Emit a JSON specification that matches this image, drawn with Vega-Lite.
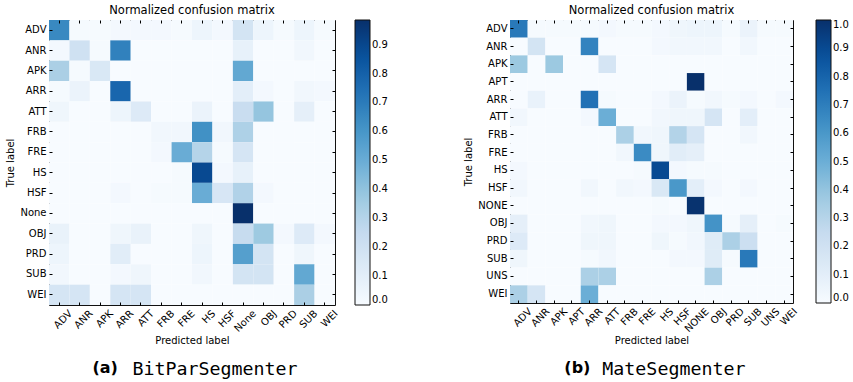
{
"$schema": "https://vega.github.io/schema/vega-lite/v6.json",
"background": "white",
"padding": {"left": 5, "top": 4, "right": 0, "bottom": 0},
"config": {
  "view": {"stroke": "#111", "strokeWidth": 1},
  "font": "DejaVu Sans",
  "axis": {"labelFont": "DejaVu Sans", "labelFontSize": 10, "labelColor": "#000", "titleFont": "DejaVu Sans", "titleFontSize": 10, "titleFontWeight": "normal", "titleColor": "#000", "domain": false, "grid": false, "tickColor": "#000", "tickSize": -3, "labelPadding": 6},
  "legend": {"labelFont": "DejaVu Sans", "labelFontSize": 10, "labelColor": "#000"},
  "title": {"font": "DejaVu Sans", "fontWeight": "normal", "color": "#000"}
},
"datasets": {
"a": [
{"t":"ADV","p":"ADV","v":0.65},{"t":"ADV","p":"ANR","v":0.01},{"t":"ADV","p":"APK","v":0.01},{"t":"ADV","p":"ARR","v":0.02},{"t":"ADV","p":"ATT","v":0.02},{"t":"ADV","p":"FRB","v":0.02},{"t":"ADV","p":"FRE","v":0.01},{"t":"ADV","p":"HS","v":0.05},{"t":"ADV","p":"HSF","v":0.02},{"t":"ADV","p":"None","v":0.18},{"t":"ADV","p":"OBJ","v":0.05},{"t":"ADV","p":"PRD","v":0.01},{"t":"ADV","p":"SUB","v":0.05},{"t":"ADV","p":"WEI","v":0.01},
{"t":"ANR","p":"ADV","v":0.02},{"t":"ANR","p":"ANR","v":0.2},{"t":"ANR","p":"APK","v":0.01},{"t":"ANR","p":"ARR","v":0.68},{"t":"ANR","p":"ATT","v":0},{"t":"ANR","p":"FRB","v":0},{"t":"ANR","p":"FRE","v":0},{"t":"ANR","p":"HS","v":0},{"t":"ANR","p":"HSF","v":0},{"t":"ANR","p":"None","v":0.08},{"t":"ANR","p":"OBJ","v":0},{"t":"ANR","p":"PRD","v":0},{"t":"ANR","p":"SUB","v":0.03},{"t":"ANR","p":"WEI","v":0},
{"t":"APK","p":"ADV","v":0.33},{"t":"APK","p":"ANR","v":0.01},{"t":"APK","p":"APK","v":0.15},{"t":"APK","p":"ARR","v":0},{"t":"APK","p":"ATT","v":0},{"t":"APK","p":"FRB","v":0},{"t":"APK","p":"FRE","v":0},{"t":"APK","p":"HS","v":0},{"t":"APK","p":"HSF","v":0},{"t":"APK","p":"None","v":0.52},{"t":"APK","p":"OBJ","v":0},{"t":"APK","p":"PRD","v":0},{"t":"APK","p":"SUB","v":0},{"t":"APK","p":"WEI","v":0},
{"t":"ARR","p":"ADV","v":0.01},{"t":"ARR","p":"ANR","v":0.06},{"t":"ARR","p":"APK","v":0},{"t":"ARR","p":"ARR","v":0.78},{"t":"ARR","p":"ATT","v":0},{"t":"ARR","p":"FRB","v":0},{"t":"ARR","p":"FRE","v":0},{"t":"ARR","p":"HS","v":0},{"t":"ARR","p":"HSF","v":0},{"t":"ARR","p":"None","v":0.1},{"t":"ARR","p":"OBJ","v":0.02},{"t":"ARR","p":"PRD","v":0},{"t":"ARR","p":"SUB","v":0.03},{"t":"ARR","p":"WEI","v":0.02},
{"t":"ATT","p":"ADV","v":0.04},{"t":"ATT","p":"ANR","v":0},{"t":"ATT","p":"APK","v":0},{"t":"ATT","p":"ARR","v":0.05},{"t":"ATT","p":"ATT","v":0.13},{"t":"ATT","p":"FRB","v":0},{"t":"ATT","p":"FRE","v":0},{"t":"ATT","p":"HS","v":0.06},{"t":"ATT","p":"HSF","v":0},{"t":"ATT","p":"None","v":0.23},{"t":"ATT","p":"OBJ","v":0.39},{"t":"ATT","p":"PRD","v":0},{"t":"ATT","p":"SUB","v":0.09},{"t":"ATT","p":"WEI","v":0},
{"t":"FRB","p":"ADV","v":0},{"t":"FRB","p":"ANR","v":0},{"t":"FRB","p":"APK","v":0},{"t":"FRB","p":"ARR","v":0},{"t":"FRB","p":"ATT","v":0},{"t":"FRB","p":"FRB","v":0.03},{"t":"FRB","p":"FRE","v":0.03},{"t":"FRB","p":"HS","v":0.62},{"t":"FRB","p":"HSF","v":0.03},{"t":"FRB","p":"None","v":0.32},{"t":"FRB","p":"OBJ","v":0},{"t":"FRB","p":"PRD","v":0},{"t":"FRB","p":"SUB","v":0},{"t":"FRB","p":"WEI","v":0},
{"t":"FRE","p":"ADV","v":0},{"t":"FRE","p":"ANR","v":0},{"t":"FRE","p":"APK","v":0},{"t":"FRE","p":"ARR","v":0},{"t":"FRE","p":"ATT","v":0},{"t":"FRE","p":"FRB","v":0.02},{"t":"FRE","p":"FRE","v":0.5},{"t":"FRE","p":"HS","v":0.3},{"t":"FRE","p":"HSF","v":0.01},{"t":"FRE","p":"None","v":0.17},{"t":"FRE","p":"OBJ","v":0},{"t":"FRE","p":"PRD","v":0},{"t":"FRE","p":"SUB","v":0},{"t":"FRE","p":"WEI","v":0},
{"t":"HS","p":"ADV","v":0},{"t":"HS","p":"ANR","v":0},{"t":"HS","p":"APK","v":0},{"t":"HS","p":"ARR","v":0},{"t":"HS","p":"ATT","v":0},{"t":"HS","p":"FRB","v":0},{"t":"HS","p":"FRE","v":0.01},{"t":"HS","p":"HS","v":0.89},{"t":"HS","p":"HSF","v":0.02},{"t":"HS","p":"None","v":0.08},{"t":"HS","p":"OBJ","v":0},{"t":"HS","p":"PRD","v":0},{"t":"HS","p":"SUB","v":0},{"t":"HS","p":"WEI","v":0},
{"t":"HSF","p":"ADV","v":0},{"t":"HSF","p":"ANR","v":0},{"t":"HSF","p":"APK","v":0},{"t":"HSF","p":"ARR","v":0.02},{"t":"HSF","p":"ATT","v":0},{"t":"HSF","p":"FRB","v":0.01},{"t":"HSF","p":"FRE","v":0.01},{"t":"HSF","p":"HS","v":0.5},{"t":"HSF","p":"HSF","v":0.16},{"t":"HSF","p":"None","v":0.31},{"t":"HSF","p":"OBJ","v":0.02},{"t":"HSF","p":"PRD","v":0},{"t":"HSF","p":"SUB","v":0},{"t":"HSF","p":"WEI","v":0},
{"t":"None","p":"ADV","v":0},{"t":"None","p":"ANR","v":0},{"t":"None","p":"APK","v":0},{"t":"None","p":"ARR","v":0},{"t":"None","p":"ATT","v":0},{"t":"None","p":"FRB","v":0},{"t":"None","p":"FRE","v":0},{"t":"None","p":"HS","v":0},{"t":"None","p":"HSF","v":0},{"t":"None","p":"None","v":0.985},{"t":"None","p":"OBJ","v":0},{"t":"None","p":"PRD","v":0},{"t":"None","p":"SUB","v":0},{"t":"None","p":"WEI","v":0},
{"t":"OBJ","p":"ADV","v":0.07},{"t":"OBJ","p":"ANR","v":0},{"t":"OBJ","p":"APK","v":0},{"t":"OBJ","p":"ARR","v":0.04},{"t":"OBJ","p":"ATT","v":0.07},{"t":"OBJ","p":"FRB","v":0},{"t":"OBJ","p":"FRE","v":0},{"t":"OBJ","p":"HS","v":0.04},{"t":"OBJ","p":"HSF","v":0},{"t":"OBJ","p":"None","v":0.24},{"t":"OBJ","p":"OBJ","v":0.37},{"t":"OBJ","p":"PRD","v":0.02},{"t":"OBJ","p":"SUB","v":0.13},{"t":"OBJ","p":"WEI","v":0.02},
{"t":"PRD","p":"ADV","v":0.05},{"t":"PRD","p":"ANR","v":0},{"t":"PRD","p":"APK","v":0},{"t":"PRD","p":"ARR","v":0.11},{"t":"PRD","p":"ATT","v":0},{"t":"PRD","p":"FRB","v":0},{"t":"PRD","p":"FRE","v":0},{"t":"PRD","p":"HS","v":0.05},{"t":"PRD","p":"HSF","v":0},{"t":"PRD","p":"None","v":0.56},{"t":"PRD","p":"OBJ","v":0.18},{"t":"PRD","p":"PRD","v":0},{"t":"PRD","p":"SUB","v":0.04},{"t":"PRD","p":"WEI","v":0},
{"t":"SUB","p":"ADV","v":0.03},{"t":"SUB","p":"ANR","v":0},{"t":"SUB","p":"APK","v":0},{"t":"SUB","p":"ARR","v":0.02},{"t":"SUB","p":"ATT","v":0.04},{"t":"SUB","p":"FRB","v":0},{"t":"SUB","p":"FRE","v":0},{"t":"SUB","p":"HS","v":0.03},{"t":"SUB","p":"HSF","v":0},{"t":"SUB","p":"None","v":0.18},{"t":"SUB","p":"OBJ","v":0.18},{"t":"SUB","p":"PRD","v":0},{"t":"SUB","p":"SUB","v":0.52},{"t":"SUB","p":"WEI","v":0},
{"t":"WEI","p":"ADV","v":0.17},{"t":"WEI","p":"ANR","v":0.17},{"t":"WEI","p":"APK","v":0},{"t":"WEI","p":"ARR","v":0.17},{"t":"WEI","p":"ATT","v":0.17},{"t":"WEI","p":"FRB","v":0},{"t":"WEI","p":"FRE","v":0},{"t":"WEI","p":"HS","v":0},{"t":"WEI","p":"HSF","v":0},{"t":"WEI","p":"None","v":0},{"t":"WEI","p":"OBJ","v":0},{"t":"WEI","p":"PRD","v":0},{"t":"WEI","p":"SUB","v":0.33},{"t":"WEI","p":"WEI","v":0}
],
"b": [
{"t":"ADV","p":"ADV","v":0.72},{"t":"ADV","p":"ANR","v":0.01},{"t":"ADV","p":"APK","v":0.01},{"t":"ADV","p":"APT","v":0.01},{"t":"ADV","p":"ARR","v":0.01},{"t":"ADV","p":"ATT","v":0.02},{"t":"ADV","p":"FRB","v":0.01},{"t":"ADV","p":"FRE","v":0.01},{"t":"ADV","p":"HS","v":0.02},{"t":"ADV","p":"HSF","v":0.04},{"t":"ADV","p":"NONE","v":0.05},{"t":"ADV","p":"OBJ","v":0.05},{"t":"ADV","p":"PRD","v":0.01},{"t":"ADV","p":"SUB","v":0.06},{"t":"ADV","p":"UNS","v":0.01},{"t":"ADV","p":"WEI","v":0.01},
{"t":"ANR","p":"ADV","v":0},{"t":"ANR","p":"ANR","v":0.18},{"t":"ANR","p":"APK","v":0},{"t":"ANR","p":"APT","v":0},{"t":"ANR","p":"ARR","v":0.68},{"t":"ANR","p":"ATT","v":0},{"t":"ANR","p":"FRB","v":0},{"t":"ANR","p":"FRE","v":0},{"t":"ANR","p":"HS","v":0.02},{"t":"ANR","p":"HSF","v":0.03},{"t":"ANR","p":"NONE","v":0.03},{"t":"ANR","p":"OBJ","v":0.03},{"t":"ANR","p":"PRD","v":0},{"t":"ANR","p":"SUB","v":0.03},{"t":"ANR","p":"UNS","v":0},{"t":"ANR","p":"WEI","v":0},
{"t":"APK","p":"ADV","v":0.38},{"t":"APK","p":"ANR","v":0},{"t":"APK","p":"APK","v":0.38},{"t":"APK","p":"APT","v":0},{"t":"APK","p":"ARR","v":0},{"t":"APK","p":"ATT","v":0.17},{"t":"APK","p":"FRB","v":0},{"t":"APK","p":"FRE","v":0},{"t":"APK","p":"HS","v":0},{"t":"APK","p":"HSF","v":0},{"t":"APK","p":"NONE","v":0},{"t":"APK","p":"OBJ","v":0},{"t":"APK","p":"PRD","v":0},{"t":"APK","p":"SUB","v":0},{"t":"APK","p":"UNS","v":0},{"t":"APK","p":"WEI","v":0},
{"t":"APT","p":"ADV","v":0},{"t":"APT","p":"ANR","v":0},{"t":"APT","p":"APK","v":0},{"t":"APT","p":"APT","v":0},{"t":"APT","p":"ARR","v":0},{"t":"APT","p":"ATT","v":0},{"t":"APT","p":"FRB","v":0},{"t":"APT","p":"FRE","v":0},{"t":"APT","p":"HS","v":0},{"t":"APT","p":"HSF","v":0},{"t":"APT","p":"NONE","v":1.0},{"t":"APT","p":"OBJ","v":0},{"t":"APT","p":"PRD","v":0},{"t":"APT","p":"SUB","v":0},{"t":"APT","p":"UNS","v":0},{"t":"APT","p":"WEI","v":0},
{"t":"ARR","p":"ADV","v":0},{"t":"ARR","p":"ANR","v":0.07},{"t":"ARR","p":"APK","v":0},{"t":"ARR","p":"APT","v":0},{"t":"ARR","p":"ARR","v":0.75},{"t":"ARR","p":"ATT","v":0.01},{"t":"ARR","p":"FRB","v":0},{"t":"ARR","p":"FRE","v":0},{"t":"ARR","p":"HS","v":0.02},{"t":"ARR","p":"HSF","v":0.06},{"t":"ARR","p":"NONE","v":0.01},{"t":"ARR","p":"OBJ","v":0.03},{"t":"ARR","p":"PRD","v":0.01},{"t":"ARR","p":"SUB","v":0.02},{"t":"ARR","p":"UNS","v":0},{"t":"ARR","p":"WEI","v":0.02},
{"t":"ATT","p":"ADV","v":0.03},{"t":"ATT","p":"ANR","v":0},{"t":"ATT","p":"APK","v":0},{"t":"ATT","p":"APT","v":0},{"t":"ATT","p":"ARR","v":0.02},{"t":"ATT","p":"ATT","v":0.5},{"t":"ATT","p":"FRB","v":0},{"t":"ATT","p":"FRE","v":0},{"t":"ATT","p":"HS","v":0.03},{"t":"ATT","p":"HSF","v":0.04},{"t":"ATT","p":"NONE","v":0.04},{"t":"ATT","p":"OBJ","v":0.17},{"t":"ATT","p":"PRD","v":0},{"t":"ATT","p":"SUB","v":0.1},{"t":"ATT","p":"UNS","v":0},{"t":"ATT","p":"WEI","v":0},
{"t":"FRB","p":"ADV","v":0},{"t":"FRB","p":"ANR","v":0},{"t":"FRB","p":"APK","v":0},{"t":"FRB","p":"APT","v":0},{"t":"FRB","p":"ARR","v":0},{"t":"FRB","p":"ATT","v":0},{"t":"FRB","p":"FRB","v":0.33},{"t":"FRB","p":"FRE","v":0.03},{"t":"FRB","p":"HS","v":0.04},{"t":"FRB","p":"HSF","v":0.31},{"t":"FRB","p":"NONE","v":0.17},{"t":"FRB","p":"OBJ","v":0},{"t":"FRB","p":"PRD","v":0},{"t":"FRB","p":"SUB","v":0.03},{"t":"FRB","p":"UNS","v":0},{"t":"FRB","p":"WEI","v":0},
{"t":"FRE","p":"ADV","v":0},{"t":"FRE","p":"ANR","v":0},{"t":"FRE","p":"APK","v":0},{"t":"FRE","p":"APT","v":0},{"t":"FRE","p":"ARR","v":0},{"t":"FRE","p":"ATT","v":0},{"t":"FRE","p":"FRB","v":0.03},{"t":"FRE","p":"FRE","v":0.65},{"t":"FRE","p":"HS","v":0.04},{"t":"FRE","p":"HSF","v":0.11},{"t":"FRE","p":"NONE","v":0.09},{"t":"FRE","p":"OBJ","v":0},{"t":"FRE","p":"PRD","v":0},{"t":"FRE","p":"SUB","v":0},{"t":"FRE","p":"UNS","v":0},{"t":"FRE","p":"WEI","v":0},
{"t":"HS","p":"ADV","v":0.02},{"t":"HS","p":"ANR","v":0},{"t":"HS","p":"APK","v":0},{"t":"HS","p":"APT","v":0},{"t":"HS","p":"ARR","v":0},{"t":"HS","p":"ATT","v":0},{"t":"HS","p":"FRB","v":0},{"t":"HS","p":"FRE","v":0.01},{"t":"HS","p":"HS","v":0.9},{"t":"HS","p":"HSF","v":0.02},{"t":"HS","p":"NONE","v":0.01},{"t":"HS","p":"OBJ","v":0.01},{"t":"HS","p":"PRD","v":0},{"t":"HS","p":"SUB","v":0},{"t":"HS","p":"UNS","v":0},{"t":"HS","p":"WEI","v":0},
{"t":"HSF","p":"ADV","v":0.03},{"t":"HSF","p":"ANR","v":0},{"t":"HSF","p":"APK","v":0},{"t":"HSF","p":"APT","v":0},{"t":"HSF","p":"ARR","v":0.03},{"t":"HSF","p":"ATT","v":0},{"t":"HSF","p":"FRB","v":0.03},{"t":"HSF","p":"FRE","v":0.02},{"t":"HSF","p":"HS","v":0.15},{"t":"HSF","p":"HSF","v":0.6},{"t":"HSF","p":"NONE","v":0.1},{"t":"HSF","p":"OBJ","v":0.02},{"t":"HSF","p":"PRD","v":0},{"t":"HSF","p":"SUB","v":0.02},{"t":"HSF","p":"UNS","v":0},{"t":"HSF","p":"WEI","v":0},
{"t":"NONE","p":"ADV","v":0},{"t":"NONE","p":"ANR","v":0},{"t":"NONE","p":"APK","v":0},{"t":"NONE","p":"APT","v":0},{"t":"NONE","p":"ARR","v":0},{"t":"NONE","p":"ATT","v":0},{"t":"NONE","p":"FRB","v":0},{"t":"NONE","p":"FRE","v":0},{"t":"NONE","p":"HS","v":0.01},{"t":"NONE","p":"HSF","v":0},{"t":"NONE","p":"NONE","v":0.99},{"t":"NONE","p":"OBJ","v":0},{"t":"NONE","p":"PRD","v":0},{"t":"NONE","p":"SUB","v":0},{"t":"NONE","p":"UNS","v":0},{"t":"NONE","p":"WEI","v":0},
{"t":"OBJ","p":"ADV","v":0.09},{"t":"OBJ","p":"ANR","v":0},{"t":"OBJ","p":"APK","v":0},{"t":"OBJ","p":"APT","v":0},{"t":"OBJ","p":"ARR","v":0.03},{"t":"OBJ","p":"ATT","v":0.04},{"t":"OBJ","p":"FRB","v":0},{"t":"OBJ","p":"FRE","v":0},{"t":"OBJ","p":"HS","v":0.02},{"t":"OBJ","p":"HSF","v":0.02},{"t":"OBJ","p":"NONE","v":0.04},{"t":"OBJ","p":"OBJ","v":0.62},{"t":"OBJ","p":"PRD","v":0.01},{"t":"OBJ","p":"SUB","v":0.09},{"t":"OBJ","p":"UNS","v":0},{"t":"OBJ","p":"WEI","v":0.01},
{"t":"PRD","p":"ADV","v":0.13},{"t":"PRD","p":"ANR","v":0},{"t":"PRD","p":"APK","v":0},{"t":"PRD","p":"APT","v":0},{"t":"PRD","p":"ARR","v":0.04},{"t":"PRD","p":"ATT","v":0.04},{"t":"PRD","p":"FRB","v":0},{"t":"PRD","p":"FRE","v":0},{"t":"PRD","p":"HS","v":0.04},{"t":"PRD","p":"HSF","v":0.01},{"t":"PRD","p":"NONE","v":0.03},{"t":"PRD","p":"OBJ","v":0.12},{"t":"PRD","p":"PRD","v":0.33},{"t":"PRD","p":"SUB","v":0.22},{"t":"PRD","p":"UNS","v":0},{"t":"PRD","p":"WEI","v":0},
{"t":"SUB","p":"ADV","v":0.04},{"t":"SUB","p":"ANR","v":0},{"t":"SUB","p":"APK","v":0},{"t":"SUB","p":"APT","v":0},{"t":"SUB","p":"ARR","v":0.01},{"t":"SUB","p":"ATT","v":0.03},{"t":"SUB","p":"FRB","v":0},{"t":"SUB","p":"FRE","v":0},{"t":"SUB","p":"HS","v":0},{"t":"SUB","p":"HSF","v":0.02},{"t":"SUB","p":"NONE","v":0.02},{"t":"SUB","p":"OBJ","v":0.12},{"t":"SUB","p":"PRD","v":0.01},{"t":"SUB","p":"SUB","v":0.72},{"t":"SUB","p":"UNS","v":0},{"t":"SUB","p":"WEI","v":0},
{"t":"UNS","p":"ADV","v":0},{"t":"UNS","p":"ANR","v":0},{"t":"UNS","p":"APK","v":0},{"t":"UNS","p":"APT","v":0},{"t":"UNS","p":"ARR","v":0.33},{"t":"UNS","p":"ATT","v":0.33},{"t":"UNS","p":"FRB","v":0},{"t":"UNS","p":"FRE","v":0},{"t":"UNS","p":"HS","v":0},{"t":"UNS","p":"HSF","v":0},{"t":"UNS","p":"NONE","v":0},{"t":"UNS","p":"OBJ","v":0.33},{"t":"UNS","p":"PRD","v":0},{"t":"UNS","p":"SUB","v":0},{"t":"UNS","p":"UNS","v":0},{"t":"UNS","p":"WEI","v":0},
{"t":"WEI","p":"ADV","v":0.33},{"t":"WEI","p":"ANR","v":0.17},{"t":"WEI","p":"APK","v":0},{"t":"WEI","p":"APT","v":0},{"t":"WEI","p":"ARR","v":0.5},{"t":"WEI","p":"ATT","v":0},{"t":"WEI","p":"FRB","v":0},{"t":"WEI","p":"FRE","v":0},{"t":"WEI","p":"HS","v":0},{"t":"WEI","p":"HSF","v":0},{"t":"WEI","p":"NONE","v":0},{"t":"WEI","p":"OBJ","v":0},{"t":"WEI","p":"PRD","v":0},{"t":"WEI","p":"SUB","v":0},{"t":"WEI","p":"UNS","v":0},{"t":"WEI","p":"WEI","v":0}
]
},
"spacing": 75,
"resolve": {"scale": {"color": "independent"}},
"hconcat": [
{
  "title": {"text": "(a)", "orient": "bottom", "anchor": "start", "font": "DejaVu Sans", "fontSize": 16, "fontWeight": "bold", "dx": 87, "dy": -22},
  "vconcat": [{
    "title": {"text": "BitParSegmenter", "orient": "bottom", "anchor": "start", "font": "DejaVu Sans Mono", "fontSize": 18.3, "dx": 127, "offset": 15},
    "vconcat": [{
      "width": 286, "height": 285,
      "title": {"text": "Normalized confusion matrix", "fontSize": 11.5, "offset": 3},
      "data": {"name": "a"},
      "layer": [
        {"mark": {"type": "rect"},
         "encoding": {
          "x": {"field": "p", "type": "nominal", "sort": ["ADV","ANR","APK","ARR","ATT","FRB","FRE","HS","HSF","None","OBJ","PRD","SUB","WEI"], "scale": {"paddingInner": 0, "paddingOuter": 0}, "axis": {"title": "Predicted label", "labelAngle": -45, "labelAlign": "right", "labelOffset": 8, "titlePadding": 2}},
          "y": {"field": "t", "type": "nominal", "sort": ["ADV","ANR","APK","ARR","ATT","FRB","FRE","HS","HSF","None","OBJ","PRD","SUB","WEI"], "scale": {"paddingInner": 0, "paddingOuter": 0}, "axis": {"title": "True label", "titlePadding": 4}},
          "color": {"field": "v", "type": "quantitative", "scale": {"type": "linear", "domain": [0, 0.123125, 0.24625, 0.369375, 0.4925, 0.615625, 0.73875, 0.861875, 0.985], "range": ["#f7fbff","#deebf7","#c6dbef","#9ecae1","#6baed6","#4292c6","#2171b5","#08519c","#08306b"], "interpolate": "rgb"},
            "legend": {"orient": "right", "offset": 15, "title": null, "direction": "vertical", "gradientLength": 285, "gradientThickness": 15, "gradientStrokeColor": "#111", "gradientStrokeWidth": 1, "values": [0,0.1,0.2,0.3,0.4,0.5,0.6,0.7,0.8,0.9], "format": ".1f", "labelOverlap": false, "labelOffset": 2}}
         }},
        {"mark": {"type": "rect", "opacity": 0},
         "encoding": {
          "x": {"field": "p", "type": "nominal", "sort": ["ADV","ANR","APK","ARR","ATT","FRB","FRE","HS","HSF","None","OBJ","PRD","SUB","WEI"], "axis": {"orient": "top", "labels": false, "title": null}},
          "y": {"field": "t", "type": "nominal", "sort": ["ADV","ANR","APK","ARR","ATT","FRB","FRE","HS","HSF","None","OBJ","PRD","SUB","WEI"], "axis": {"orient": "right", "labels": false, "title": null}}
         }}
      ],
      "resolve": {"axis": {"x": "independent", "y": "independent"}}
    }]
  }]
},
{
  "title": {"text": "(b)", "orient": "bottom", "anchor": "start", "font": "DejaVu Sans", "fontSize": 16, "fontWeight": "bold", "dx": 101, "dy": -22},
  "vconcat": [{
    "title": {"text": "MateSegmenter", "orient": "bottom", "anchor": "start", "font": "DejaVu Sans Mono", "fontSize": 18.3, "dx": 139, "offset": 15},
    "vconcat": [{
      "width": 283, "height": 283,
      "title": {"text": "Normalized confusion matrix", "fontSize": 11.5, "offset": 3},
      "data": {"name": "b"},
      "layer": [
        {"mark": {"type": "rect"},
         "encoding": {
          "x": {"field": "p", "type": "nominal", "sort": ["ADV","ANR","APK","APT","ARR","ATT","FRB","FRE","HS","HSF","NONE","OBJ","PRD","SUB","UNS","WEI"], "scale": {"paddingInner": 0, "paddingOuter": 0}, "axis": {"title": "Predicted label", "labelAngle": -45, "labelAlign": "right", "labelOffset": 8, "titlePadding": 2}},
          "y": {"field": "t", "type": "nominal", "sort": ["ADV","ANR","APK","APT","ARR","ATT","FRB","FRE","HS","HSF","NONE","OBJ","PRD","SUB","UNS","WEI"], "scale": {"paddingInner": 0, "paddingOuter": 0}, "axis": {"title": "True label", "titlePadding": 4}},
          "color": {"field": "v", "type": "quantitative", "scale": {"type": "linear", "domain": [0, 0.125, 0.25, 0.375, 0.5, 0.625, 0.75, 0.875, 1.0], "range": ["#f7fbff","#deebf7","#c6dbef","#9ecae1","#6baed6","#4292c6","#2171b5","#08519c","#08306b"], "interpolate": "rgb"},
            "legend": {"orient": "right", "offset": 16, "title": null, "direction": "vertical", "gradientLength": 283, "gradientThickness": 15, "gradientStrokeColor": "#111", "gradientStrokeWidth": 1, "values": [0,0.1,0.2,0.3,0.4,0.5,0.6,0.7,0.8,0.9,1.0], "format": ".1f", "labelOverlap": false, "labelOffset": 2}}
         }},
        {"mark": {"type": "rect", "opacity": 0},
         "encoding": {
          "x": {"field": "p", "type": "nominal", "sort": ["ADV","ANR","APK","APT","ARR","ATT","FRB","FRE","HS","HSF","NONE","OBJ","PRD","SUB","UNS","WEI"], "axis": {"orient": "top", "labels": false, "title": null}},
          "y": {"field": "t", "type": "nominal", "sort": ["ADV","ANR","APK","APT","ARR","ATT","FRB","FRE","HS","HSF","NONE","OBJ","PRD","SUB","UNS","WEI"], "axis": {"orient": "right", "labels": false, "title": null}}
         }}
      ],
      "resolve": {"axis": {"x": "independent", "y": "independent"}}
    }]
  }]
}
]
}
